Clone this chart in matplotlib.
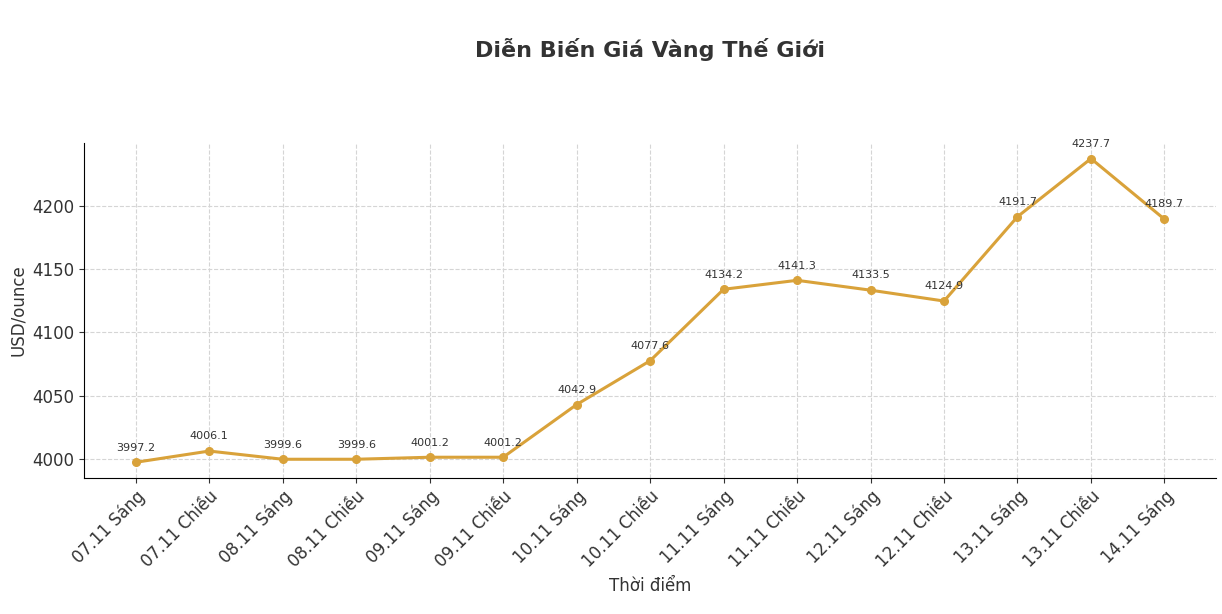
import matplotlib.pyplot as plt

labels = ['07.11 Sáng', '07.11 Chiều', '08.11 Sáng', '08.11 Chiều', '09.11 Sáng',
          '09.11 Chiều', '10.11 Sáng', '10.11 Chiều', '11.11 Sáng', '11.11 Chiều',
          '12.11 Sáng', '12.11 Chiều', '13.11 Sáng', '13.11 Chiều', '14.11 Sáng']
prices = [3997.2, 4006.1, 3999.6, 3999.6, 4001.2, 4001.2, 4042.9, 4077.6,
          4134.2, 4141.3, 4133.5, 4124.9, 4191.7, 4237.7, 4189.7]

fig = plt.figure(figsize=(12.22, 6.14), dpi=100)
ax = fig.add_axes([0.069, 0.222, 0.926, 0.545])
x = range(len(labels))
ax.plot(x, prices, color='#D9A23A', linewidth=2.2, marker='o', markersize=5.5)
for xi, v in zip(x, prices):
    ax.annotate(f'{v}', (xi, v), xytext=(0, 7), textcoords='offset points',
                ha='center', va='bottom', fontsize=8, color='#333333')

ax.set_xlim(-0.7, len(labels) - 0.3)
ax.set_ylim(3985, 4250)
ax.set_yticks([4000, 4050, 4100, 4150, 4200])
ax.set_xticks(list(x))
ax.set_xticklabels(labels, rotation=45, ha='right', rotation_mode='anchor', fontsize=12)
ax.tick_params(axis='y', labelsize=12)
ax.tick_params(colors='#333333')
ax.grid(True, linestyle='--', color='#d5d5d5', linewidth=0.8)
ax.spines['top'].set_visible(False)
ax.spines['right'].set_visible(False)
ax.set_xlabel('Thời điểm', fontsize=12, color='#333333')
ax.set_ylabel('USD/ounce', fontsize=12, color='#333333')
fig.text(0.532, 0.92, 'Diễn Biến Giá Vàng Thế Giới', ha='center', va='center',
         fontsize=16, fontweight='bold', color='#333333')
fig.savefig('out.png', dpi=100)
